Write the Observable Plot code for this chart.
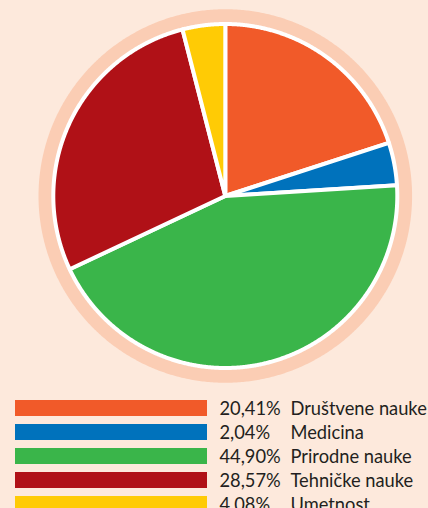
<!DOCTYPE html>
<html><head><meta charset="utf-8">
<script src="https://cdn.jsdelivr.net/npm/d3@7"></script>
<script src="https://cdn.jsdelivr.net/npm/@observablehq/plot@0.6"></script>
<style>
html,body{margin:0;padding:0;background:#fde9dc;overflow:hidden;}
#chart{width:428px;height:508px;}
svg{display:block;}
</style></head><body><div id="chart"></div>
<script>
const categories = ["Društvene nauke", "Medicina", "Prirodne nauke", "Tehničke nauke", "Umetnost"];
const percentLabels = ["20,41%", "2,04%", "44,90%", "28,57%", "4,08%"];
const sliceShares = [20, 4, 44, 28, 4]; // slice sizes as drawn in the picture
const colors = ["#f15a29", "#0072bc", "#3ab54a", "#b01117", "#ffcb05"];

const W = 428, H1 = 392, H2 = 116;
const k = 172;            // pixels per unit radius
const cx = 224.8, cy = 195.5;
const ringR = 1.086;

const arcs = d3.pie().sort(null).value(d => d.v)(categories.map((c, i) => ({c, v: sliceShares[i], color: colors[i]})));
function slicePts(a) {
  const pts = [{x: 0, y: 0}];
  const n = Math.max(2, Math.ceil((a.endAngle - a.startAngle) / 0.005));
  for (let j = 0; j <= n; j++) {
    const t = a.startAngle + (a.endAngle - a.startAngle) * j / n;
    pts.push({x: Math.sin(t), y: Math.cos(t)});
  }
  return pts;
}
const ringPts = d3.range(0, 721).map(j => {
  const t = j / 720 * 2 * Math.PI;
  return {x: ringR * Math.sin(t), y: ringR * Math.cos(t)};
});

const pie = Plot.plot({
  width: W, height: H1,
  margin: 0,
  style: {background: "transparent", overflow: "visible"},
  x: {domain: [-cx / k, (W - cx) / k], range: [0, W], axis: null},
  y: {domain: [-(H1 - cy) / k, cy / k], range: [H1, 0], axis: null},
  marks: [
    Plot.line(ringPts, {x: "x", y: "y", fill: "#fbcdb4", stroke: "none", curve: "linear-closed"}),
    ...arcs.map(a => Plot.line(slicePts(a), {x: "x", y: "y", fill: a.data.color, stroke: "white", strokeWidth: 4, strokeLinejoin: "round", curve: "linear-closed"}))
  ]
});

const rows = categories.map((c, i) => ({c, pct: percentLabels[i], color: colors[i]}));
const legend = Plot.plot({
  width: W, height: H2,
  margin: 0,
  style: {background: "transparent", overflow: "visible", fontFamily: "Lato", fontSize: "18px"},
  x: {type: "linear", domain: [0, 1], range: [15, 207], axis: null},
  y: {type: "band", domain: categories, range: [4, 124], paddingInner: 1/3, paddingOuter: 1/6, axis: null},
  marks: [
    Plot.barX(rows, {x1: 0, x2: 1, y: "c", fill: "color"}),
    Plot.text(rows, {x: 1, y: "c", dx: 12, dy: 1, text: "pct", textAnchor: "start", fill: "#231f20", fontSize: 18.3, fontFamily: "Lato"}),
    Plot.text(rows, {x: 1, y: "c", dx: 83, dy: 1, text: "c", textAnchor: "start", fill: "#231f20", fontSize: 18.3, fontFamily: "Lato"})
  ]
});

const el = document.getElementById("chart");
el.appendChild(pie);
el.appendChild(legend);
</script></body></html>
